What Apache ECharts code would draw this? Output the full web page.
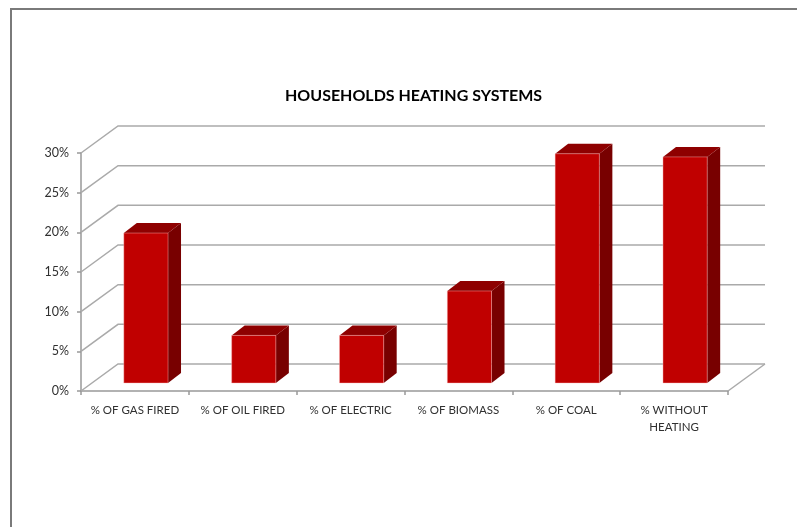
<!DOCTYPE html>
<html>
<head>
<meta charset="utf-8">
<script src="https://cdn.jsdelivr.net/npm/echarts@6/dist/echarts.min.js"></script>
<style>
  html, body { margin: 0; padding: 0; background: #fff; }
  #main { width: 797px; height: 527px; }
</style>
</head>
<body>
<div id="main"></div>
<script>
// categories and values (percent)
var categories = ['% OF GAS FIRED', '% OF OIL FIRED', '% OF ELECTRIC', '% OF BIOMASS', '% OF COAL', '% WITHOUT\nHEATING'];
var shares = [18.9, 6, 6, 11.6, 28.9, 28.5];
var gridLevels = [0, 5, 10, 15, 20, 25, 30];

// 3d look (pixels)
var WALL_DX = 37, WALL_DY = -27;   // depth of floor / back wall
var BAR_OX = 11, BAR_OY = -8;      // where the bar front sits in depth
var BAR_DX = 13, BAR_DY = -10;     // depth of the bar itself
var BAR_W = 0.41;                  // bar width as part of the band

var chart = echarts.init(document.getElementById('main'));

// back wall and floor lines
function renderWall(params, api) {
  var lvl = api.value(1);
  var bw = api.size([1, 0])[0];
  var l = api.coord([0, lvl]);
  var r = api.coord([categories.length - 1, lvl]);
  var x0 = l[0] - bw / 2, x1 = r[0] + bw / 2, y = l[1];
  var lineStyle = { stroke: '#aaaaaa', lineWidth: 1.5, fill: null };
  var kids = [{
    type: 'polyline',
    shape: { points: [[x0, y], [x0 + WALL_DX, y + WALL_DY], [x1 + WALL_DX, y + WALL_DY]] },
    style: lineStyle
  }];
  if (lvl === 0) {
    kids.push({
      type: 'line',
      shape: { x1: x1, y1: y, x2: x1 + WALL_DX, y2: y + WALL_DY },
      style: lineStyle
    });
  }
  return { type: 'group', children: kids };
}

// 3d bar: front, side, top
function renderBar(params, api) {
  var i = api.value(0);
  var bw = api.size([1, 0])[0];
  var c0 = api.coord([i, 0]);
  var c1 = api.coord([i, api.value(1)]);
  var w = bw * BAR_W;
  var xl = c0[0] - w / 2 + BAR_OX, xr = xl + w;
  var yb = c0[1] + BAR_OY, yt = c1[1] + BAR_OY;
  var edge = 'rgba(255,190,190,0.7)';
  return {
    type: 'group',
    children: [{
      type: 'polygon',
      shape: { points: [[xr, yb], [xr, yt], [xr + BAR_DX, yt + BAR_DY], [xr + BAR_DX, yb + BAR_DY]] },
      style: { fill: '#780000' }
    }, {
      type: 'polygon',
      shape: { points: [[xl, yt], [xr, yt], [xr + BAR_DX, yt + BAR_DY], [xl + BAR_DX, yt + BAR_DY]] },
      style: { fill: '#8e0000' }
    }, {
      type: 'rect',
      shape: { x: xl, y: yt, width: w, height: yb - yt },
      style: { fill: '#c00000', stroke: edge, lineWidth: 0.6 }
    }]
  };
}

var option = {
  animation: false,
  backgroundColor: '#fff',
  title: {
    text: 'HOUSEHOLDS HEATING SYSTEMS',
    left: 280,
    top: 83,
    textStyle: { fontFamily: 'Lato', fontWeight: 'bold', fontSize: 16, color: '#000' }
  },
  graphic: [{
    type: 'polyline',
    shape: { points: [[11, 527], [11, 9], [797, 9]] },
    style: { stroke: '#7a7a7a', lineWidth: 2, fill: null }
  }],
  grid: { left: 81, right: 69, top: 153, bottom: 136 },
  xAxis: {
    type: 'category',
    data: categories,
    boundaryGap: true,
    axisLine: { lineStyle: { color: '#999', width: 1.5 } },
    axisTick: { show: true, interval: 0, length: 4, lineStyle: { color: '#999', width: 1.5 } },
    axisLabel: {
      interval: 0, margin: 11, color: '#303030',
      fontFamily: 'Lato', fontSize: 11.5, lineHeight: 17
    }
  },
  yAxis: {
    type: 'value',
    min: 0, max: 30, interval: 5,
    axisLine: { show: true, lineStyle: { color: '#999', width: 1.5 } },
    axisTick: { show: true, length: 4, lineStyle: { color: '#999', width: 1.5 } },
    splitLine: { show: false },
    axisLabel: {
      formatter: '{value}%', margin: 12, color: '#303030',
      fontFamily: 'Lato', fontSize: 12.5
    }
  },
  series: [{
    type: 'custom',
    renderItem: renderWall,
    data: gridLevels.map(function (v) { return [0, v]; }),
    silent: true,
    z: 1
  }, {
    type: 'custom',
    renderItem: renderBar,
    data: shares.map(function (v, i) { return [i, v]; }),
    z: 2
  }]
};

chart.setOption(option);
window.onresize = chart.resize;
</script>
</body>
</html>
